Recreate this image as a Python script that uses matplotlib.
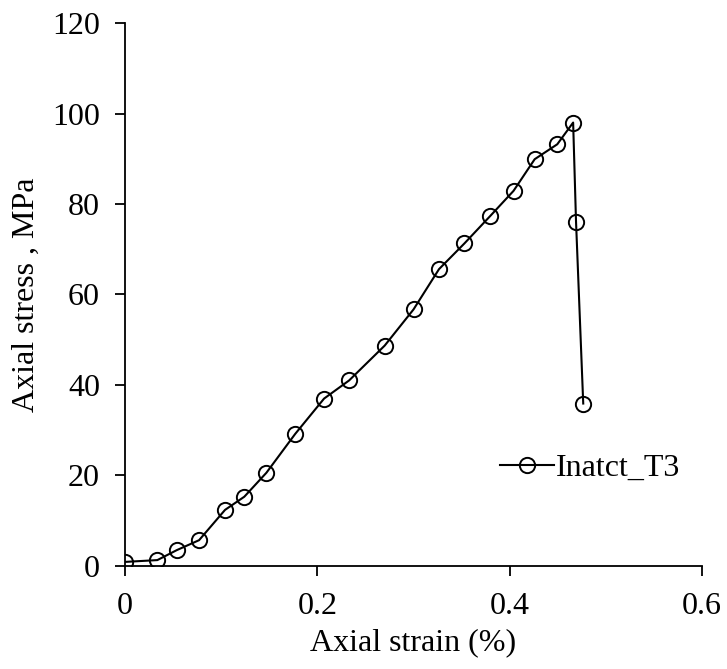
import matplotlib.pyplot as plt

# stress-strain data
strain = [0.0, 0.0336, 0.0538, 0.077, 0.104, 0.124, 0.147, 0.177, 0.207, 0.233,
          0.270, 0.300, 0.3265, 0.353, 0.380, 0.404, 0.426, 0.4495, 0.466, 0.469, 0.4765]
stress = [0.9, 1.3, 3.5, 5.7, 12.4, 15.3, 20.6, 29.2, 37.0, 41.0,
          48.7, 56.7, 65.6, 71.3, 77.4, 82.9, 89.9, 93.2, 98.0, 76.1, 35.9]
series_name = 'Inatct_T3'

plt.rcParams['font.family'] = ['Liberation Serif', 'DejaVu Serif']
plt.rcParams['font.size'] = 23

fig = plt.figure(figsize=(7.27, 6.69), dpi=100)
ax = fig.add_axes([0.172, 0.154, 0.7936, 0.8116])

ax.plot(strain, stress, color='black', linewidth=1.5, marker='o', markersize=11,
        markerfacecolor='none', markeredgecolor='black', markeredgewidth=1.4,
        label=series_name)

ax.set_xlim(0, 0.6)
ax.set_ylim(0, 120)
ax.set_xticks([0, 0.2, 0.4, 0.6])
ax.set_xticklabels(['0', '0.2', '0.4', '0.6'])
ax.set_yticks([0, 20, 40, 60, 80, 100, 120])

for side in ['top', 'right']:
    ax.spines[side].set_visible(False)
for side in ['left', 'bottom']:
    ax.spines[side].set_linewidth(1.3)
ax.tick_params(direction='out', length=7, width=1.3)
ax.tick_params(axis='x', pad=12)
ax.tick_params(axis='y', pad=11)

ax.set_xlabel('Axial strain (%)', labelpad=5)
ax.set_ylabel('Axial stress , MPa', labelpad=8)

ax.legend(loc='center left', bbox_to_anchor=(0.65, 0.18), frameon=False,
          handlelength=1.7, handletextpad=0.05, borderaxespad=0, borderpad=0)

fig.savefig('out.png', dpi=100)
